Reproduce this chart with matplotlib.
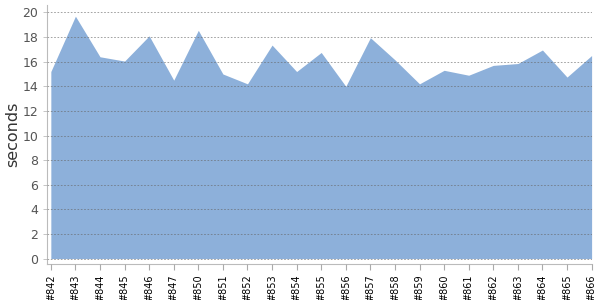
import matplotlib
matplotlib.use("Agg")
import matplotlib.pyplot as plt
import numpy as np

builds = ["#842", "#843", "#844", "#845", "#846", "#847", "#850", "#851",
          "#852", "#853", "#854", "#855", "#856", "#857", "#858", "#859",
          "#860", "#861", "#862", "#863", "#864", "#865", "#866"]
seconds = [15.2, 19.7, 16.4, 16.05, 18.1, 14.5, 18.55, 15.0,
           14.2, 17.35, 15.2, 16.75, 14.0, 17.95, 16.15, 14.2,
           15.3, 14.9, 15.7, 15.85, 16.95, 14.75, 16.5]

x = np.arange(len(builds))

fig = plt.figure(figsize=(6, 3), dpi=100)
ax = fig.add_axes([0.079, 0.121, 0.907, 0.862])

ax.fill_between(x, 0, seconds, color="#8DB0DA", lw=0, zorder=1)

ax.set_xlim(-0.14, 22)
ax.set_ylim(-0.42, 20.6)
ax.set_yticks(np.arange(0, 21, 2))
ax.set_xticks(x)
ax.set_xticklabels(builds, rotation=90, fontsize=7)
ax.tick_params(axis="y", labelsize=9, colors="#bbbbbb", length=3, width=0.6)
ax.tick_params(axis="x", labelsize=7, colors="#aaaaaa", length=4, width=0.8)
for lbl in ax.get_yticklabels():
    lbl.set_color("#555555")
for lbl in ax.get_xticklabels():
    lbl.set_color("black")

# dashed guides sit on top of the area, slightly see-through
ax.grid(axis="y", color="#666666", alpha=0.7, linestyle=(0, (2, 2)), lw=0.6, zorder=2)
ax.set_axisbelow(False)

for s in ["top", "right"]:
    ax.spines[s].set_visible(False)
ax.spines["left"].set_color("#bbbbbb")
ax.spines["bottom"].set_color("#bbbbbb")

ax.set_ylabel("seconds", fontsize=11.5, color="#333333", labelpad=2)

fig.savefig("out.png", dpi=100)
